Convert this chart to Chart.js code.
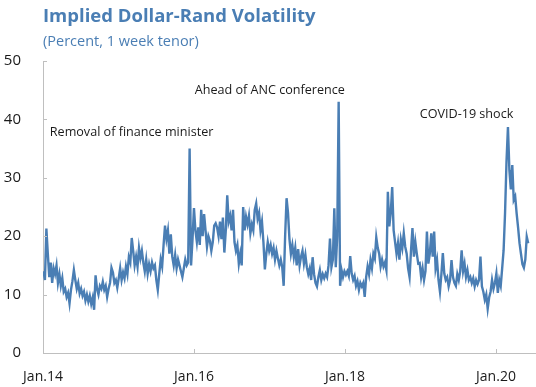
<!DOCTYPE html>
<html>
<head>
<meta charset="utf-8">
<script src="https://cdn.jsdelivr.net/npm/chart.js@4/dist/chart.umd.min.js"></script>
<style>
  html, body { margin: 0; padding: 0; background: #fff; }
  #wrap { width: 536px; height: 387px; position: relative; }
</style>
</head>
<body>
<div id="wrap"><canvas id="volChart"></canvas></div>
<script>
// weekly implied vol, 1 week tenor (percent), one array per year
var vol2014 = [14, 12.5, 21.3, 17, 13, 15.5, 12, 14.5, 13.5, 15,
    12, 13.5, 11.5, 12.8, 10.5, 11, 9.6, 10.3, 8.5, 10.8,
    12.3, 14.2, 12.5, 11, 12, 10.2, 11, 9.8, 10.5, 9,
    10, 8.8, 9.8, 8.4, 9.5, 7.4, 13.3, 11, 10, 11.5,
    11, 12.2, 10.8, 11.5, 9.6, 11, 12, 14.6, 13.8, 12,
    12.5, 11.2];
var vol2015 = [12.8, 14.5, 12.5, 13.8, 12.8, 14.8, 13.5, 16.4,
    15.5, 19.7, 17.5, 15, 16.5, 14.8, 18, 16.2, 17.5, 15.5,
    14, 16, 13.6, 15.2, 14, 15.5, 14.5, 15, 12.5, 10.8,
    13.5, 16, 14.8, 18.5, 21.8, 19.5, 21, 17, 20.3, 16.5,
    15, 16.8, 14.5, 16, 15, 14, 13, 14.5, 16, 15,
    15.5, 35, 15, 19.5];
var vol2016 = [24.8, 21, 19, 21.5, 18.5, 24.5,
    20, 23.8, 21, 18.2, 20, 19.2, 17.5, 19, 21.8, 22.2,
    21.5, 20, 22.5, 19.5, 23.2, 17.2, 21, 27, 22.5, 23.5,
    21, 24.5, 19, 17.5, 18.5, 15.3, 17, 15, 25, 21,
    23.3, 22, 23.5, 20.5, 22, 21, 24.5, 25.6, 23, 24,
    21, 22.5, 19, 14.3, 17, 19];
var vol2017 = [17.5, 18.5, 17, 18,
    16, 17.5, 16.2, 15, 16, 14.7, 11.5, 20, 26.5, 24,
    19.5, 17, 18.5, 16.4, 18, 15, 17.8, 15, 16.5, 17.5,
    15.3, 16.8, 14.7, 13.5, 14.5, 12.5, 16.4, 13.5, 12, 11.4,
    13, 14.2, 12.5, 13.5, 12.8, 13.6, 13, 15, 19.6, 14.7,
    16, 24.8, 14.7, 20, 43, 11.5, 14.2, 13];
var vol2018 = [14, 13.4,
    14, 13.2, 16.6, 13.6, 12.5, 13.2, 11.5, 12.3, 10.8, 12,
    11.4, 12, 9.6, 13, 14.8, 13.5, 15.9, 14.5, 17, 16.2,
    19.8, 18, 17, 14.8, 16, 14.8, 15.5, 14.2, 27.6, 21.7,
    24, 28.4, 21, 19, 17, 18.8, 16, 19.4, 18, 20.5,
    18.2, 17, 14.5, 13, 17.5, 21.4, 16.5, 19, 17, 15.3];
var vol2019 = [15.4, 13, 14.5, 12.5, 14, 20.8, 15.3, 17, 20.5, 16.5,
    20.8, 14.5, 15.9, 12.5, 10.5, 13.5, 17.1, 13.6, 12.5, 13,
    11.4, 12.5, 15.9, 13, 12, 11.5, 13.5, 12.5, 14, 17.6,
    14, 15.3, 13, 14.2, 12.5, 13, 12, 12.8, 11.4, 12.5,
    11.8, 12.5, 16.5, 11.4, 10.5, 9.1, 10, 7.6, 9.5, 10.5,
    12.5, 11];
var vol2020 = [12, 13.6, 10.3, 12.5, 11.5, 14.5, 17.6, 24,
    32.8, 38.7, 31.3, 28, 32.2, 26.2, 26.8, 23.9, 21.5, 18.8,
    17, 15.2, 14.6, 16, 19.9, 18.8];

var yTicks = [0, 10, 20, 30, 40, 50];
var xTickYears = [2014, 2016, 2018, 2020];

var notes = [
    { text: "Removal of finance minister", x: 2014.09, y: 37.7 },
    { text: "Ahead of ANC conference", x: 2016.01, y: 45.0 },
    { text: "COVID-19 shock", x: 2018.99, y: 40.9 }
];

var allVol = [].concat(vol2014, vol2015, vol2016, vol2017, vol2018, vol2019, vol2020);
var firstObs = Date.UTC(2014, 0, 3);
var dayMs = 864e5;
var points = allVol.map(function (v, i) {
    var t = firstObs + i * 7 * dayMs;
    return { x: 1970 + t / (365.2425 * dayMs), y: v };
});

var blue = "#4a7eb4";
var axisGray = "#bfbfbf";
var fontFamily = "'Open Sans', 'Noto Sans', sans-serif";

// title, subtitle, event labels and the small inward tick marks
var decorPlugin = {
    id: "decor",
    afterDraw: function (chart) {
        var ctx = chart.ctx;
        var xs = chart.scales.x, ys = chart.scales.y;
        var area = chart.chartArea;
        ctx.save();

        ctx.strokeStyle = axisGray;
        ctx.lineWidth = 1;
        yTicks.forEach(function (v) {
            var py = Math.round(ys.getPixelForValue(v)) + 0.5;
            ctx.beginPath();
            ctx.moveTo(area.left, py);
            ctx.lineTo(area.left + 4, py);
            ctx.stroke();
        });
        xTickYears.forEach(function (v) {
            var px = Math.round(xs.getPixelForValue(v)) + 0.5;
            ctx.beginPath();
            ctx.moveTo(px, area.bottom);
            ctx.lineTo(px, area.bottom - 4);
            ctx.stroke();
        });

        ctx.textBaseline = "middle";
        ctx.textAlign = "left";
        ctx.fillStyle = blue;
        ctx.font = "bold 18.5px " + fontFamily;
        ctx.fillText("Implied Dollar-Rand Volatility", 43, 17);
        ctx.font = "14.5px " + fontFamily;
        ctx.fillText("(Percent, 1 week tenor)", 43, 42);

        ctx.fillStyle = "#1a1a1a";
        ctx.font = "12.6px " + fontFamily;
        notes.forEach(function (n) {
            ctx.fillText(n.text, xs.getPixelForValue(n.x), ys.getPixelForValue(n.y));
        });
        ctx.restore();
    }
};

var ctx = document.getElementById("volChart").getContext("2d");
new Chart(ctx, {
    type: "line",
    data: {
        datasets: [{
            label: "Implied volatility",
            data: points,
            borderColor: blue,
            borderWidth: 2.4,
            pointRadius: 0,
            tension: 0,
            fill: false
        }]
    },
    options: {
        responsive: true,
        maintainAspectRatio: false,
        animation: false,
        parsing: false,
        layout: { padding: { top: 61, right: 0, bottom: 0, left: 0 } },
        plugins: {
            legend: { display: false },
            tooltip: { enabled: false }
        },
        scales: {
            x: {
                type: "linear",
                min: 2014,
                max: 2020.53,
                afterFit: function (scale) { scale.height = 34; },
                afterBuildTicks: function (scale) {
                    scale.ticks = xTickYears.map(function (v) { return { value: v }; });
                },
                ticks: {
                    autoSkip: false,
                    maxRotation: 0,
                    padding: 8,
                    color: "#1a1a1a",
                    font: { family: fontFamily, size: 14 },
                    callback: function (v) { return "Jan." + String(v).slice(2); }
                },
                grid: { display: false },
                border: { display: true, color: axisGray, width: 1 }
            },
            y: {
                min: 0,
                max: 50,
                afterFit: function (scale) { scale.width = 43; },
                afterBuildTicks: function (scale) {
                    scale.ticks = yTicks.map(function (v) { return { value: v }; });
                },
                ticks: {
                    padding: 14,
                    color: "#1a1a1a",
                    font: { family: fontFamily, size: 15 }
                },
                grid: { display: false },
                border: { display: true, color: axisGray, width: 1 }
            }
        }
    },
    plugins: [decorPlugin]
});
</script>
</body>
</html>
